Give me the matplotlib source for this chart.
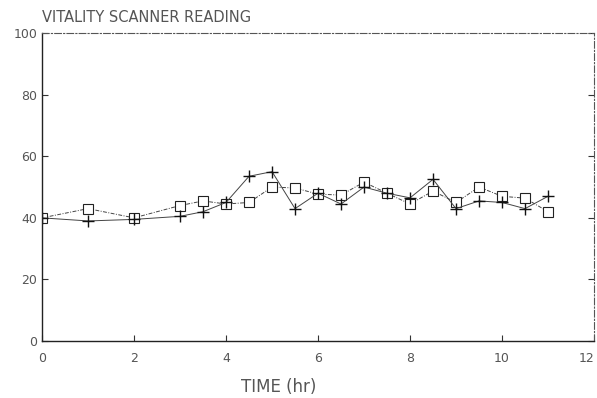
import matplotlib
matplotlib.use("Agg")
import matplotlib.pyplot as plt

# readings taken every half hour (some hours skipped)
time_hr = [0, 1, 2, 3, 3.5, 4, 4.5, 5, 5.5, 6, 6.5, 7, 7.5, 8, 8.5, 9, 9.5, 10, 10.5, 11]
square_vals = [40, 43, 40, 44, 45.5, 44.5, 45, 50, 49.7, 47.7, 47.4, 51.6, 48, 44.5, 48.7, 45, 50, 47, 46.4, 42]
plus_vals = [40, 39, 39.5, 40.5, 42, 45, 53.5, 55, 43, 48, 44.5, 50, 48, 46.5, 52.5, 43, 45.5, 45, 43, 47]

x_ticks = [0, 2, 4, 6, 8, 10, 12]
y_ticks = [0, 20, 40, 60, 80, 100]

txt = "#555555"

fig = plt.figure(figsize=(5.97, 3.98), dpi=100)
ax = fig.add_axes([0.0704, 0.143, 0.9246, 0.774])

ax.plot(time_hr, square_vals, color="#444444", lw=0.7, ls=(0, (4, 1.5, 1, 1.5)),
        marker="s", ms=7, mfc="white", mec="#222222", mew=0.8)
ax.plot(time_hr, plus_vals, color="#444444", lw=0.7, ls="-",
        marker="+", ms=9, mec="#111111", mew=1.0)

ax.set_xlim(0, 12)
ax.set_ylim(0, 100)
ax.set_xticks(x_ticks)
ax.set_yticks(y_ticks)
ax.tick_params(direction="in", length=4, width=0.8, colors="#333333",
               labelcolor=txt, labelsize=9, right=True)
ax.tick_params(axis="x", pad=8)
ax.get_xticklabels()[-1].set_ha("right")

for side in ["left", "bottom"]:
    ax.spines[side].set_color("#222222")
    ax.spines[side].set_linewidth(1.0)
for side in ["top", "right"]:
    ax.spines[side].set_color("#555555")
    ax.spines[side].set_linewidth(0.8)
    ax.spines[side].set_linestyle((0, (6, 2, 1, 2)))

fig.text(0.07, 0.945, "VITALITY SCANNER READING", fontsize=10.5, color=txt, ha="left")
ax.set_xlabel("TIME (hr)", fontsize=12, color=txt, labelpad=10)
ax.xaxis.set_label_coords(0.428, -0.12)

fig.savefig("out.png", dpi=100)
